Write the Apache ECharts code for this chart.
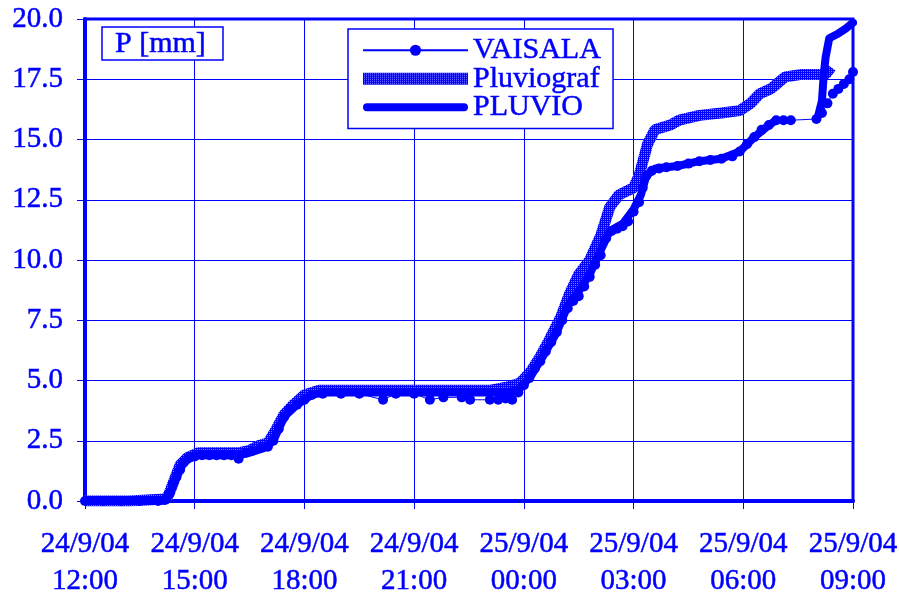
<!DOCTYPE html>
<html>
<head>
<meta charset="utf-8">
<script src="https://cdn.jsdelivr.net/npm/echarts@6/dist/echarts.min.js"></script>
<style>
  html, body { margin: 0; padding: 0; background: #fff; }
  #chart { width: 899px; height: 594px; }
</style>
</head>
<body>
<div id="chart"></div>
<script>
// hours after 24/9/04 12:00, precipitation in mm
const xTickLabels = ['24/9/04\n12:00', '24/9/04\n15:00', '24/9/04\n18:00', '24/9/04\n21:00',
  '25/9/04\n00:00', '25/9/04\n03:00', '25/9/04\n06:00', '25/9/04\n09:00'];

const vaisala = [
  [0, 0], [0.5, 0], [1, 0], [1.5, 0], [2, 0], [2.2, 0.05], [2.3, 0.3], [2.4, 0.7], [2.5, 1.0],
  [2.6, 1.3], [2.7, 1.6], [2.85, 1.8], [3.0, 1.85], [3.2, 1.9], [3.4, 1.9], [3.6, 1.9], [3.8, 1.9],
  [4.0, 1.9], [4.2, 1.75], [4.4, 2.0], [4.6, 2.1], [4.8, 2.2], [5.0, 2.25], [5.15, 2.5], [5.3, 3.0],
  [5.45, 3.5], [5.6, 3.8], [5.8, 4.0], [6.0, 4.2], [6.2, 4.4], [6.5, 4.45], [7.0, 4.45], [7.5, 4.45],
  [8.15, 4.2], [8.5, 4.45], [9.0, 4.45], [9.43, 4.2], [9.8, 4.3], [10.3, 4.3], [10.53, 4.2],
  [11.07, 4.2], [11.3, 4.2], [11.5, 4.25], [11.68, 4.2], [11.85, 4.5], [12.0, 4.8], [12.15, 5.1],
  [12.3, 5.5], [12.45, 5.8], [12.6, 6.2], [12.75, 6.6], [12.9, 7.0], [13.05, 7.5], [13.2, 8.0],
  [13.35, 8.3], [13.5, 8.5], [13.65, 8.9], [13.8, 9.3], [13.95, 9.8], [14.1, 10.2], [14.25, 10.9],
  [14.4, 11.2], [14.55, 11.3], [14.7, 11.4], [14.85, 11.6], [15.0, 12.0], [15.15, 12.4], [15.25, 13.0],
  [15.35, 13.5], [15.5, 13.7], [15.7, 13.8], [15.9, 13.85], [16.2, 13.9], [16.5, 14.0], [16.8, 14.1],
  [17.1, 14.15], [17.4, 14.2], [17.7, 14.3], [17.9, 14.5], [18.1, 14.8], [18.3, 15.1], [18.5, 15.4],
  [18.7, 15.6], [18.9, 15.8], [19.1, 15.8], [19.3, 15.8], [20.0, 15.85], [20.15, 16.1], [20.3, 16.5],
  [20.45, 16.9], [20.6, 17.1], [20.75, 17.3], [20.9, 17.5], [21.0, 17.8]
];

const pluviograf = [
  [0, 0], [1.2, 0], [1.25, 0.05], [2.2, 0.08], [2.3, 0.3], [2.45, 0.9], [2.6, 1.5], [2.8, 1.8],
  [3.1, 2.0], [4.2, 2.0], [4.5, 2.1], [4.75, 2.3], [5.0, 2.4], [5.2, 2.9], [5.45, 3.6], [5.7, 4.0],
  [6.0, 4.4], [6.4, 4.6], [11.1, 4.6], [11.6, 4.75], [11.9, 4.9], [12.2, 5.4], [12.45, 6.0],
  [12.7, 6.7], [13.0, 7.6], [13.25, 8.6], [13.5, 9.4], [13.8, 10.0], [14.1, 11.0], [14.35, 12.2],
  [14.6, 12.7], [15.0, 13.0], [15.15, 13.5], [15.38, 14.8], [15.58, 15.4], [16.0, 15.6], [16.25, 15.8],
  [16.8, 16.0], [17.4, 16.1], [17.9, 16.2], [18.2, 16.5], [18.45, 16.9], [18.75, 17.1], [19.15, 17.6],
  [19.6, 17.7], [20.25, 17.7], [20.4, 18.0]
];

const pluvio = [
  [0, 0], [2.2, 0.02], [2.35, 0.4], [2.5, 1.0], [2.7, 1.6], [3.0, 1.9], [4.2, 1.9], [4.5, 2.0],
  [4.9, 2.2], [5.15, 2.5], [5.45, 3.5], [5.8, 4.0], [6.2, 4.4], [6.5, 4.5], [11.5, 4.5], [11.85, 4.6],
  [12.2, 5.2], [12.6, 6.2], [12.9, 7.0], [13.2, 8.1], [13.5, 8.7], [13.8, 9.4], [14.1, 10.4],
  [14.35, 11.2], [14.7, 11.5], [15.0, 12.1], [15.2, 12.7], [15.35, 13.5], [15.6, 13.8], [16.2, 13.9],
  [16.8, 14.1], [17.4, 14.2], [17.9, 14.5], [18.3, 15.1], [18.7, 15.6], [18.9, 15.8], null,
  [20.05, 16.0], [20.15, 16.6], [20.2, 17.7], [20.25, 18.4], [20.35, 19.2], [20.6, 19.4],
  [20.8, 19.6], [21.0, 19.85]
];

const BLUE = '#0000ff';

// checker pattern for the Pluviograf band
const pat = document.createElement('canvas');
pat.width = 2; pat.height = 2;
const pctx = pat.getContext('2d');
pctx.fillStyle = BLUE;
pctx.fillRect(0, 0, 2, 2);
pctx.fillStyle = '#7a7aff';
pctx.fillRect(1, 1, 1, 1);
const patColor = { image: pat, repeat: 'repeat' };

const font = '"Liberation Serif", "DejaVu Serif", serif';
const txt = { color: BLUE, fontFamily: font, textBorderColor: BLUE, textBorderWidth: 0.5 };

const chart = echarts.init(document.getElementById('chart'));
chart.setOption({
  animation: false,
  backgroundColor: '#fff',
  title: {
    text: 'P [mm]',
    left: 102,
    top: 28,
    padding: [2, 17, 1, 13],
    borderColor: BLUE,
    borderWidth: 1.5,
    backgroundColor: '#fff',
    textStyle: Object.assign({}, txt, { fontSize: 30, fontWeight: 'normal', lineHeight: 28 })
  },
  legend: {
    left: 348,
    top: 29,
    orient: 'vertical',
    data: [
      { name: 'VAISALA' },
      { name: 'Pluviograf', icon: 'path://M0,0 L105,0 L105,12 L0,12 Z', itemStyle: { color: patColor } },
      { name: 'PLUVIO', icon: 'path://M4,0 L101,0 A4,4 0 0 1 101,8 L4,8 A4,4 0 0 1 4,0 Z', itemStyle: { color: BLUE } }
    ],
    itemWidth: 105,
    itemHeight: 14,
    itemGap: -2,
    padding: [6, 12, 6, 14],
    borderColor: BLUE,
    borderWidth: 1.5,
    backgroundColor: '#fff',
    textStyle: Object.assign({}, txt, { fontSize: 30, lineHeight: 28 })
  },
  grid: {
    left: 85, right: 46, top: 19, bottom: 93,
    outerBoundsMode: 'none',
    containLabel: false,
    show: true, borderColor: BLUE, borderWidth: 3
  },
  xAxis: {
    type: 'value',
    min: 0, max: 21, interval: 3,
    axisLine: { lineStyle: { color: BLUE, width: 4 } },
    axisTick: { show: true, length: 8, lineStyle: { color: BLUE, width: 1 } },
    splitLine: { show: true, lineStyle: { color: BLUE, width: 1 } },
    axisLabel: Object.assign({}, txt, {
      fontSize: 29, lineHeight: 37, margin: 25,
      showMinLabel: true, showMaxLabel: true,
      formatter: v => xTickLabels[Math.round(v / 3)]
    })
  },
  yAxis: {
    type: 'value',
    min: 0, max: 20, interval: 2.5,
    axisLine: { show: true, lineStyle: { color: BLUE, width: 4 } },
    axisTick: { show: true, length: 8, lineStyle: { color: BLUE, width: 1 } },
    splitLine: { show: true, lineStyle: { color: BLUE, width: 1 } },
    axisLabel: Object.assign({}, txt, {
      fontSize: 29, margin: 22,
      formatter: v => v.toFixed(1)
    })
  },
  series: [
    {
      name: 'Pluviograf',
      type: 'line',
      data: pluviograf,
      showSymbol: false,
      symbol: 'none',
      itemStyle: { color: patColor },
      lineStyle: { color: patColor, width: 11 },
      emphasis: { disabled: true }
    },
    {
      name: 'PLUVIO',
      type: 'line',
      data: pluvio,
      symbol: 'none',
      connectNulls: false,
      itemStyle: { color: BLUE },
      lineStyle: { color: BLUE, width: 8, cap: 'round', join: 'round' },
      emphasis: { disabled: true }
    },
    {
      name: 'VAISALA',
      type: 'line',
      data: vaisala,
      symbol: 'circle',
      symbolSize: 10,
      showAllSymbol: true,
      itemStyle: { color: BLUE },
      lineStyle: { color: BLUE, width: 1 },
      emphasis: { disabled: true }
    }
  ]
});
</script>
</body>
</html>
